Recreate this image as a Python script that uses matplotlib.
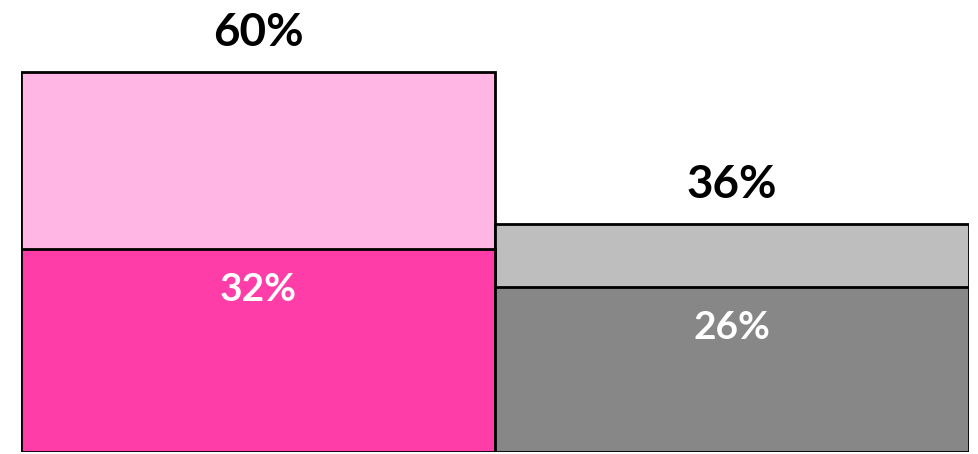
import matplotlib
matplotlib.use("Agg")
import matplotlib.pyplot as plt

# values
groups = ["A", "B"]
total_values = [60, 36]
inner_values = [32, 26]
back_colors = ["#FFB6E4", "#BEBEBE"]
front_colors = ["#FF3DA8", "#878787"]

plt.rcParams["font.family"] = ["Lato", "DejaVu Sans"]

fig = plt.figure(figsize=(9.79, 4.54), dpi=100)
ax = fig.add_axes([21 / 979, 2 / 454, 948 / 979, 450 / 454])

x = list(range(len(groups)))
ax.bar(x, total_values, width=1, align="edge", color=back_colors,
       edgecolor="black", linewidth=2, zorder=2)
ax.bar(x, inner_values, width=1, align="edge", color=front_colors,
       edgecolor="black", linewidth=2, zorder=3)

px = 60 / 380  # data units per pixel
for i, (tot, inn) in enumerate(zip(total_values, inner_values)):
    ax.text(i + 0.5, tot + 39 * px, f"{tot}%", ha="center", va="center",
            fontsize=33, fontweight="bold", color="black")
    ax.text(i + 0.5, inn - 40 * px, f"{inn}%", ha="center", va="center",
            fontsize=28, fontweight="bold", color="white", zorder=4)

ax.set_xlim(0, 2)
ax.set_ylim(0, 450 * px)
ax.axis("off")

fig.savefig("out.png", dpi=100)
